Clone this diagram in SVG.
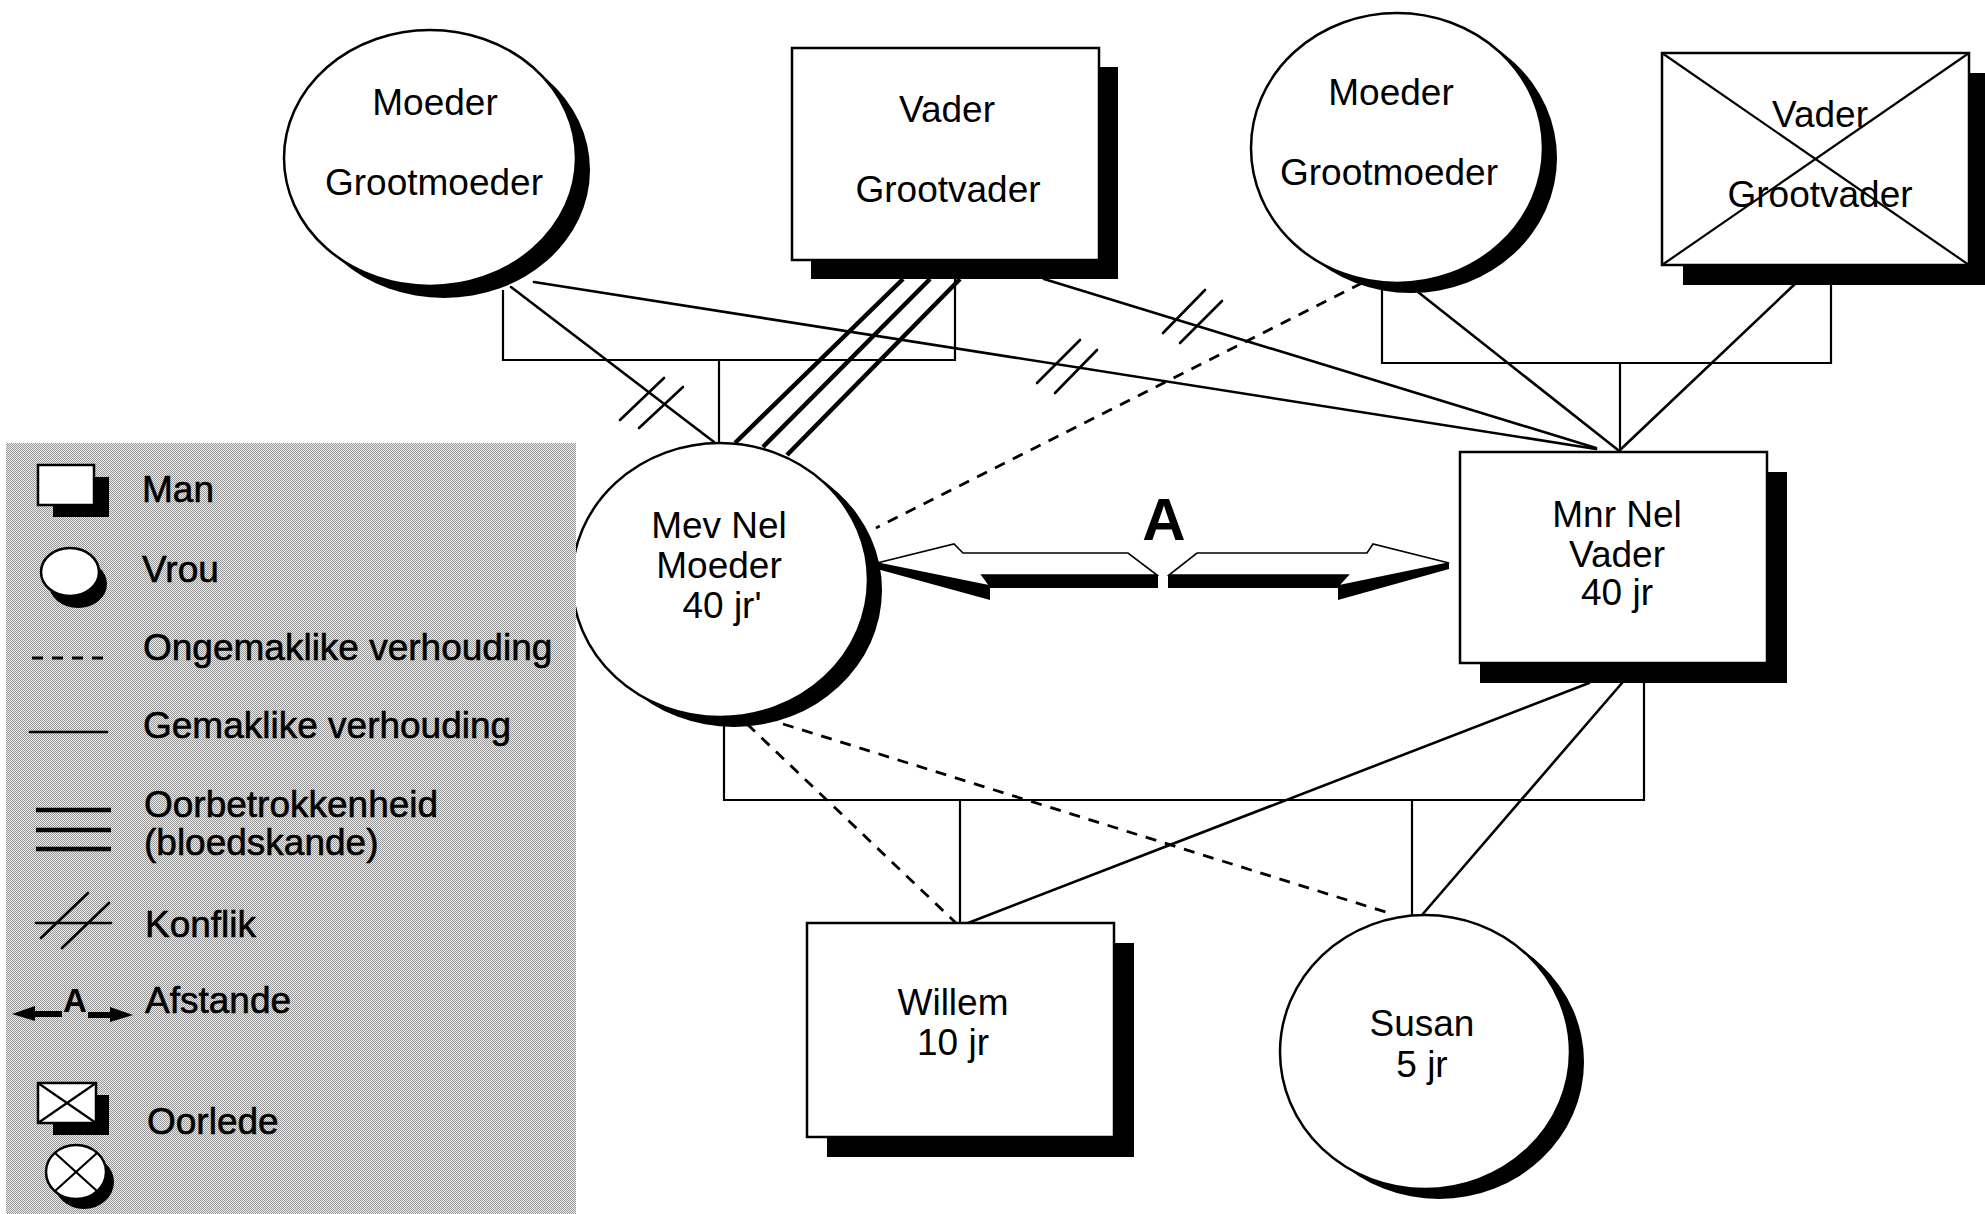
<svg xmlns="http://www.w3.org/2000/svg" width="1985" height="1214" viewBox="0 0 1985 1214">
  <defs>
    <pattern id="halftone" width="2" height="2" patternUnits="userSpaceOnUse">
      <rect width="2" height="2" fill="#ececec"/>
      <rect width="1" height="1" fill="#979797"/>
      <rect x="1" y="1" width="1" height="1" fill="#979797"/>
    </pattern>
    <style>
      .lbl { font-family: "Liberation Sans", Arial, sans-serif; font-size: 37px; fill: #000; }
      .mid { text-anchor: middle; }
      .leg { stroke: #000; stroke-width: 0.6; }
      .face { fill: #fff; stroke: #000; stroke-width: 2.5; }
      .shadow { fill: #000; }
      .ln { fill: none; stroke: #000; stroke-width: 2.6; stroke-linecap: round; }
      .br { fill: none; stroke: #000; stroke-width: 2.2; }
      .dash { fill: none; stroke: #000; stroke-width: 2.8; stroke-dasharray: 11 9; }
      .tri { fill: none; stroke: #000; stroke-width: 4.5; }
      .cross { fill: none; stroke: #000; stroke-width: 2.2; }
      .arrowface { fill: #fff; stroke: #000; stroke-width: 1.6; stroke-linejoin: miter; }
    </style>
  </defs>

  <rect width="1985" height="1214" fill="#fff"/>

  <!-- relationship lines -->
  <g id="connectors">
    <!-- left grandparents marriage bracket and drop -->
    <polyline class="br" points="503,290 503,360 955,360 955,278"/>
    <line class="br" x1="719" y1="360" x2="719" y2="443"/>
    <!-- grandmother (left) to Mev Nel, with conflict marks -->
    <line class="ln" x1="511" y1="287" x2="714" y2="442"/>
    <line class="ln" x1="620" y1="420" x2="664" y2="378"/>
    <line class="ln" x1="639" y1="428" x2="683" y2="387"/>
    <!-- grandmother (left) to Mnr Nel, with conflict marks -->
    <line class="ln" x1="534" y1="282" x2="1596" y2="449"/>
    <line class="ln" x1="1037" y1="383" x2="1080" y2="340"/>
    <line class="ln" x1="1055" y1="393" x2="1097" y2="350"/>
    <!-- grandfather (left) to Mev Nel: triple line -->
    <line class="tri" x1="903" y1="279" x2="735" y2="443"/>
    <line class="tri" x1="930" y1="279" x2="763" y2="447"/>
    <line class="tri" x1="960" y1="279" x2="787" y2="455"/>
    <!-- grandfather (left) to Mnr Nel, with conflict marks -->
    <line class="ln" x1="1044" y1="279" x2="1596" y2="448"/>
    <line class="ln" x1="1163" y1="333" x2="1205" y2="290"/>
    <line class="ln" x1="1180" y1="343" x2="1222" y2="301"/>
    <!-- grandmother (right) to Mev Nel: uneasy -->
    <line class="dash" x1="1362" y1="283" x2="876" y2="528"/>
    <!-- right grandparents marriage bracket and drop -->
    <polyline class="br" points="1382,290 1382,363 1831,363 1831,283"/>
    <line class="br" x1="1620" y1="363" x2="1620" y2="452"/>
    <line class="ln" x1="1418" y1="292" x2="1618" y2="450"/>
    <line class="ln" x1="1796" y1="283" x2="1620" y2="450"/>
    <!-- parents marriage bracket and children drops -->
    <polyline class="br" points="724,724 724,800 1644,800 1644,683"/>
    <line class="br" x1="960" y1="800" x2="960" y2="923"/>
    <line class="br" x1="1412" y1="800" x2="1412" y2="915"/>
    <!-- mother to children: uneasy -->
    <line class="dash" x1="747" y1="724" x2="956" y2="923"/>
    <line class="dash" x1="783" y1="724" x2="1392" y2="914"/>
    <!-- father to children: easy -->
    <line class="ln" x1="1589" y1="683" x2="968" y2="923"/>
    <line class="ln" x1="1622" y1="683" x2="1422" y2="915"/>

    <!-- distance between the parents -->
    <g id="distance">
      <polygon class="shadow" points="877,563 990,586 982,575 1158,575 1158,588 990,588 990,600 877,569"/>
      <polygon class="arrowface" points="877,563 954,544 963,553 1128,553 1157,575 982,575 990,586"/>
      <polygon class="shadow" points="1449,563 1338,586 1348,575 1168,575 1168,588 1338,588 1338,600 1449,569"/>
      <polygon class="arrowface" points="1449,563 1373,544 1367,553 1197,553 1169,575 1348,575 1338,586"/>
      <text x="1164" y="540" font-family="Liberation Sans, Arial, sans-serif" font-size="60" font-weight="bold" text-anchor="middle">A</text>
    </g>
  </g>

  <!-- grandmother, left -->
  <g id="grandmother-left">
    <ellipse class="shadow" cx="444" cy="170" rx="146" ry="128"/>
    <ellipse class="face" cx="430" cy="158" rx="146" ry="128"/>
    <text class="lbl mid" x="435" y="115">Moeder</text>
    <text class="lbl mid" x="434" y="195">Grootmoeder</text>
  </g>

  <!-- grandfather, left -->
  <g id="grandfather-left">
    <rect class="shadow" x="811" y="67" width="307" height="212"/>
    <rect class="face" x="792" y="48" width="307" height="212"/>
    <text class="lbl mid" x="947" y="122">Vader</text>
    <text class="lbl mid" x="948" y="202">Grootvader</text>
  </g>

  <!-- grandmother, right -->
  <g id="grandmother-right">
    <ellipse class="shadow" cx="1411" cy="158" rx="146" ry="135"/>
    <ellipse class="face" cx="1397" cy="148" rx="146" ry="135"/>
    <text class="lbl mid" x="1391" y="105">Moeder</text>
    <text class="lbl mid" x="1389" y="185">Grootmoeder</text>
  </g>

  <!-- grandfather, right (deceased) -->
  <g id="grandfather-right">
    <rect class="shadow" x="1683" y="73" width="307" height="212"/>
    <rect class="face" x="1662" y="53" width="307" height="212"/>
    <text class="lbl mid" x="1820" y="127">Vader</text>
    <text class="lbl mid" x="1820" y="207">Grootvader</text>
    <line class="cross" x1="1662" y1="53" x2="1969" y2="265"/>
    <line class="cross" x1="1969" y1="53" x2="1662" y2="265"/>
  </g>

  <!-- mother -->
  <g id="mev-nel">
    <ellipse class="shadow" cx="734" cy="590" rx="148" ry="137"/>
    <ellipse class="face" cx="720" cy="580" rx="148" ry="137"/>
    <text class="lbl mid" x="719" y="538">Mev Nel</text>
    <text class="lbl mid" x="719" y="578">Moeder</text>
    <text class="lbl mid" x="722" y="618">40 jr'</text>
  </g>

  <!-- father -->
  <g id="mnr-nel">
    <rect class="shadow" x="1480" y="472" width="307" height="211"/>
    <rect class="face" x="1460" y="452" width="307" height="211"/>
    <text class="lbl mid" x="1617" y="527">Mnr Nel</text>
    <text class="lbl mid" x="1617" y="567">Vader</text>
    <text class="lbl mid" x="1617" y="605">40 jr</text>
  </g>

  <!-- son -->
  <g id="willem">
    <rect class="shadow" x="827" y="943" width="307" height="214"/>
    <rect class="face" x="807" y="923" width="307" height="214"/>
    <text class="lbl mid" x="953" y="1015">Willem</text>
    <text class="lbl mid" x="953" y="1055">10 jr</text>
  </g>

  <!-- daughter -->
  <g id="susan">
    <ellipse class="shadow" cx="1439" cy="1062" rx="145" ry="137"/>
    <ellipse class="face" cx="1425" cy="1052" rx="145" ry="137"/>
    <text class="lbl mid" x="1422" y="1036">Susan</text>
    <text class="lbl mid" x="1422" y="1077">5 jr</text>
  </g>

  <!-- key -->
  <g id="legend">
    <rect x="6" y="443" width="570" height="771" fill="url(#halftone)"/>
    <rect class="shadow" x="53" y="477" width="56" height="40"/>
    <rect class="face" x="38" y="465" width="56" height="40"/>
    <text class="lbl leg" x="142" y="502">Man</text>

    <ellipse class="shadow" cx="78" cy="584" rx="29" ry="24"/>
    <ellipse class="face" cx="70" cy="572" rx="29" ry="24"/>
    <text class="lbl leg" x="142" y="582">Vrou</text>

    <line class="dash" x1="32" y1="658" x2="110" y2="658" stroke-dasharray="12 9"/>
    <text class="lbl leg" x="143" y="660">Ongemaklike verhouding</text>

    <line class="ln" x1="30" y1="732" x2="107" y2="732"/>
    <text class="lbl leg" x="143" y="738">Gemaklike verhouding</text>

    <line class="tri" x1="36" y1="810" x2="111" y2="810"/>
    <line class="tri" x1="36" y1="830" x2="111" y2="830"/>
    <line class="tri" x1="36" y1="849" x2="111" y2="849"/>
    <text class="lbl leg" x="144" y="817">Oorbetrokkenheid</text>
    <text class="lbl leg" x="144" y="855">(bloedskande)</text>

    <line class="ln" x1="36" y1="923" x2="111" y2="923"/>
    <line class="ln" x1="41" y1="938" x2="88" y2="893"/>
    <line class="ln" x1="62" y1="948" x2="109" y2="903"/>
    <text class="lbl leg" x="145" y="937">Konflik</text>

    <polygon class="shadow" points="12,1014 35,1006 35,1011 62,1011 62,1017 35,1017 35,1021"/>
    <polygon class="shadow" points="133,1015 110,1007 110,1012 88,1012 88,1018 110,1018 110,1022"/>
    <text x="75" y="1012" font-family="Liberation Sans, Arial, sans-serif" font-size="33" font-weight="bold" text-anchor="middle">A</text>
    <text class="lbl leg" x="145" y="1013">Afstande</text>

    <rect class="shadow" x="53" y="1095" width="56" height="40"/>
    <rect class="face" x="38" y="1083" width="58" height="40"/>
    <line class="cross" x1="38" y1="1083" x2="96" y2="1123"/>
    <line class="cross" x1="96" y1="1083" x2="38" y2="1123"/>
    <text class="lbl leg" x="147" y="1134">Oorlede</text>

    <ellipse class="shadow" cx="84" cy="1182" rx="30" ry="27"/>
    <ellipse class="face" cx="76" cy="1172" rx="30" ry="27"/>
    <line class="cross" x1="55" y1="1153" x2="97" y2="1191"/>
    <line class="cross" x1="97" y1="1153" x2="55" y2="1191"/>
  </g>
</svg>
